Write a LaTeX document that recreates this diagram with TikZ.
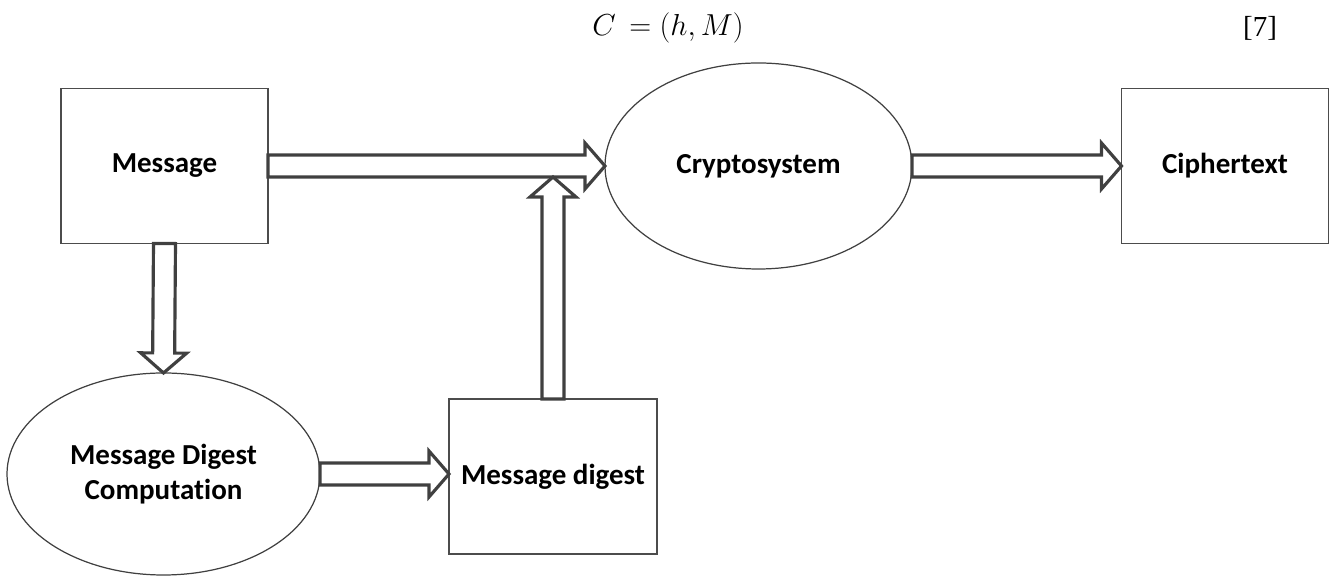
\documentclass[tikz,border=0pt]{standalone}
\usepackage{fontspec}
\setmainfont[Ligatures=NoCommon]{Carlito}
\newfontfamily\refserif{Liberation Serif}
\usepackage{tikz}
\usetikzlibrary{calc,shapes.geometric}

\begin{document}
\begin{tikzpicture}[
  box/.style={draw=black!70, line width=1pt, minimum width=4.14cm, minimum height=3.1cm,
    inner sep=0pt, outer sep=0pt, font=\bfseries\fontsize{16.5}{20}\selectfont},
  oval/.style={ellipse, draw=black!75, line width=0.7pt, inner sep=0pt, outer sep=0pt,
    align=center, font=\bfseries\fontsize{16.5}{20}\selectfont},
  hollow/.style={draw=black!75, line width=1.8pt, fill=white, line join=miter, to path={
    let \p1=(\tikztostart), \p2=(\tikztotarget),
        \n1={atan2(\y2-\y1,\x2-\x1)}, \n2={veclen(\x2-\x1,\y2-\y1)} in
    {[shift={(\p1)}, rotate=\n1]
      (0cm,-0.22cm) -- ({\n2-0.4cm},-0.22cm) -- ({\n2-0.4cm},-0.46cm) -- ({\n2},0cm)
      -- ({\n2-0.4cm},0.46cm) -- ({\n2-0.4cm},0.22cm) -- (0cm,0.22cm) -- cycle}}}
]
\useasboundingbox (0,0) rectangle (26.72,11.52);
\node[font=\fontsize{16.5}{20}\selectfont] (eq) at (13.36,10.96) {$C\,= (h, M)$};
\node[font=\refserif\fontsize{16.5}{20}\selectfont] (ref) at (25.2,10.96) {[7]};

\node[box] (msg) at (3.29,8.2) {Message};
\node[oval, minimum width=6.14cm, minimum height=4.12cm] (crypto) at (15.17,8.2) {Cryptosystem};
\node[box] (cipher) at (24.5,8.2) {Ciphertext};
\node[oval, minimum width=6.26cm, minimum height=4.04cm] (mdc) at (3.27,2.04) {Message Digest\\Computation};
\node[box, minimum width=4.16cm] (digest) at (11.06,1.99) {Message digest};

% block arrows
\draw[hollow] (msg.east) to (crypto.west);
\draw[hollow] (crypto.east) to (cipher.west);
\draw[hollow] (msg.south) to (mdc.north);
\draw[hollow] (mdc.east) to (mdc.east -| digest.west);
\coordinate (join) at ([yshift=-0.22cm]digest.north |- msg.east);
\draw[hollow] (digest.north) to (join);
\end{tikzpicture}
\end{document}
